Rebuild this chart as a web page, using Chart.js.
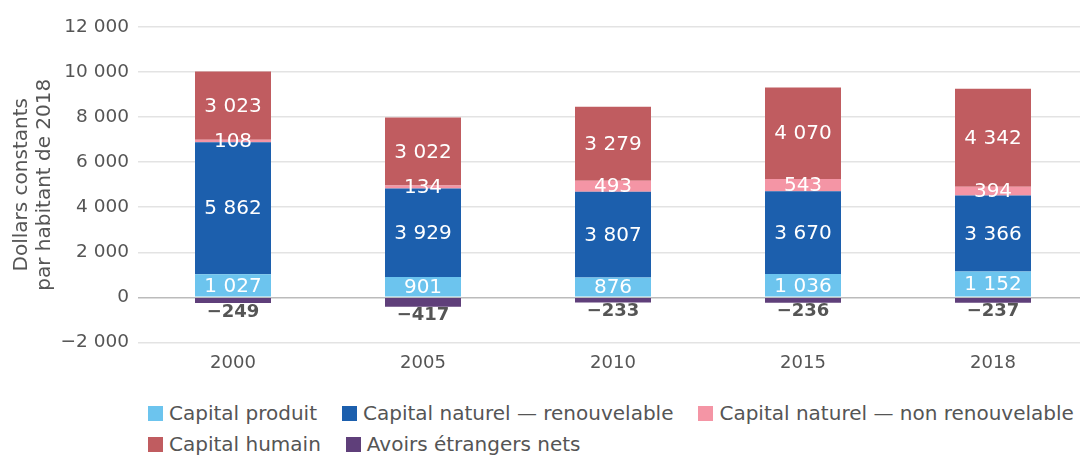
<!DOCTYPE html>
<html>
<head>
<meta charset="utf-8">
<script src="https://cdn.jsdelivr.net/npm/chart.js@4.4.1/dist/chart.umd.min.js"></script>
<style>
  html, body { margin: 0; padding: 0; background: #fff; overflow: hidden; }
  #wrap { position: relative; width: 1092px; height: 390px; }
  #legend {
    position: absolute; left: 148px; top: 402px; width: 990px;
    font-family: "DejaVu Sans", sans-serif;
    font-size: 20px; color: #555;
    display: flex; flex-wrap: wrap; row-gap: 4px;
  }
  #legend span.item { display: inline-flex; align-items: center; margin-right: 25px; line-height: 23px; white-space: nowrap; }
  #legend span.box { width: 15px; height: 15px; display: inline-block; margin-right: 6px; }
  #legend span.brk { flex-basis: 100%; height: 0; }
</style>
</head>
<body>
<div id="wrap"><canvas id="chart"></canvas></div>
<div id="legend"></div>
<script>
const years = ["2000", "2005", "2010", "2015", "2018"];
const capitalProduit = [1027, 901, 876, 1036, 1152];
const naturelRenouvelable = [5862, 3929, 3807, 3670, 3366];
const naturelNonRenouvelable = [108, 134, 493, 543, 394];
const capitalHumain = [3023, 3022, 3279, 4070, 4342];
const avoirsEtrangers = [-249, -417, -233, -236, -237];
const yTicks = [-2000, 0, 2000, 4000, 6000, 8000, 10000, 12000];

const seriesNames = [
  "Capital produit",
  "Capital naturel \u2014 renouvelable",
  "Capital naturel \u2014 non renouvelable",
  "Capital humain",
  "Avoirs étrangers nets",
];
const colors = ["#6cc4ee", "#1c5fad", "#f495a5", "#c05c60", "#5f3f7a"];

function fmt(v) {
  let s = Math.abs(v).toString().replace(/\B(?=(\d{3})+(?!\d))/g, "\u00A0");
  return (v < 0 ? "\u2212" : "") + s;
}

const numFont = "'DejaVu Sans', sans-serif";

const barLabels = {
  id: "barLabels",
  afterDatasetsDraw(chart) {
    const ctx = chart.ctx;
    ctx.save();
    ctx.textAlign = "center";
    chart.data.datasets.forEach((ds, i) => {
      const meta = chart.getDatasetMeta(i);
      meta.data.forEach((bar, j) => {
        const v = ds.data[j];
        if (v < 0) {
          ctx.fillStyle = "#555";
          ctx.font = "bold 18px " + numFont;
          ctx.textBaseline = "middle";
          ctx.fillText(fmt(v), bar.x, bar.y + 9);
        } else {
          ctx.fillStyle = "#fff";
          ctx.font = "20px " + numFont;
          ctx.textBaseline = "middle";
          ctx.fillText(fmt(v), bar.x, (bar.y + bar.base) / 2 + 1);
        }
      });
    });
    ctx.restore();
  },
};

const allSeries = [capitalProduit, naturelRenouvelable, naturelNonRenouvelable, capitalHumain, avoirsEtrangers];

new Chart(document.getElementById("chart"), {
  type: "bar",
  data: {
    labels: years,
    datasets: allSeries.map((d, i) => ({
      label: seriesNames[i],
      data: d,
      backgroundColor: colors[i],
      borderWidth: 0,
      barPercentage: 0.4,
      categoryPercentage: 1,
    })),
  },
  options: {
    responsive: true,
    maintainAspectRatio: false,
    animation: false,
    layout: { padding: { top: 27, right: 4, left: 0, bottom: 14 } },
    plugins: {
      legend: { display: false },
      tooltip: { enabled: false },
    },
    scales: {
      x: {
        stacked: true,
        grid: { display: false },
        border: { display: false },
        ticks: { color: "#555", font: { size: 18, family: numFont }, padding: 2 },
      },
      y: {
        stacked: true,
        min: -2000,
        max: 12000,
        afterBuildTicks(scale) {
          scale.ticks = yTicks.map((v) => ({ value: v }));
        },
        afterFit(scale) {
          scale.width = 138;
        },
        grid: {
          color: (c) => (c.tick && c.tick.value === 0 ? "#bbbbbb" : "#e3e3e3"),
          lineWidth: 1.5,
          drawTicks: false,
        },
        border: { display: false },
        ticks: {
          color: "#555",
          font: { size: 18.5, family: numFont },
          padding: 9,
          callback: (v) => fmt(v),
        },
        title: {
          display: true,
          text: ["Dollars constants", "par habitant de 2018"],
          color: "#555",
          font: { size: 20, family: numFont, lineHeight: 1.15 },
          padding: { top: 10, bottom: 0 },
        },
      },
    },
  },
  plugins: [barLabels],
});

const legend = document.getElementById("legend");
seriesNames.forEach((name, i) => {
  if (i === 3) {
    const brk = document.createElement("span");
    brk.className = "brk";
    legend.appendChild(brk);
  }
  const item = document.createElement("span");
  item.className = "item";
  const box = document.createElement("span");
  box.className = "box";
  box.style.background = colors[i];
  item.appendChild(box);
  item.appendChild(document.createTextNode(name));
  legend.appendChild(item);
});
</script>
</body>
</html>
